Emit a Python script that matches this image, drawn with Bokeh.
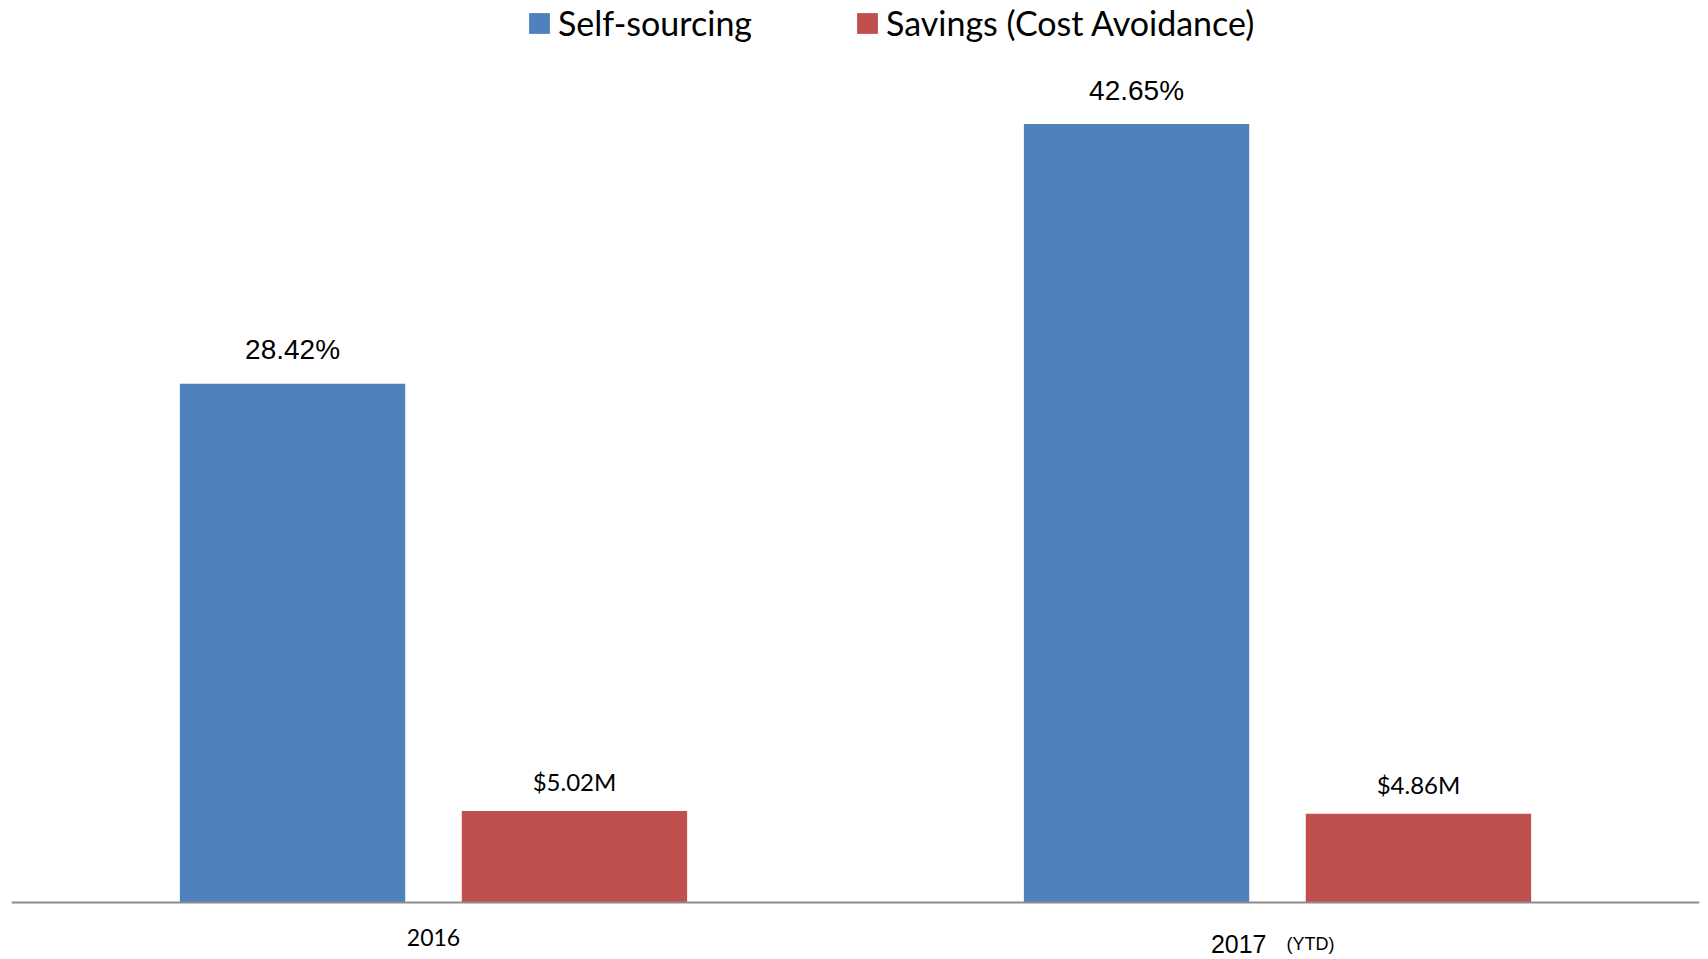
from bokeh.plotting import figure
from bokeh.models import ColumnDataSource, FactorRange, Range1d, Span, Legend, LegendItem
from bokeh.transform import dodge
from bokeh.core.properties import value
from bokeh.embed import file_html
from bokeh.resources import INLINE

# ---- data ----
categories = ["2016", "2017"]
category_suffix = "(YTD)"
self_sourcing = [28.42, 42.65]
savings = [5.02, 4.86]
self_labels = ["28.42%", "42.65%"]
savings_labels = ["$5.02M", "$4.86M"]
series_names = ["Self-sourcing", "Savings (Cost Avoidance)"]

BLUE = "#4F81BD"
RED = "#C0504D"

W, H = 1708, 959
p = figure(width=W, height=H, output_backend="svg", toolbar_location=None,
           x_range=FactorRange(factors=categories, range_padding=0),
           y_range=Range1d(-3.123, 49.42),
           x_axis_location=None, y_axis_location=None,
           min_border_left=11, min_border_right=9, min_border_top=0, min_border_bottom=0)
p.outline_line_color = None
p.xgrid.visible = False
p.ygrid.visible = False
p.background_fill_color = "white"
p.border_fill_color = "white"

src_a = ColumnDataSource(dict(cat=categories, val=self_sourcing, lab=self_labels))
src_b = ColumnDataSource(dict(cat=categories, val=savings, lab=savings_labels))

r_a = p.vbar(x=dodge("cat", -0.167, range=p.x_range), top="val", width=0.267,
             source=src_a, fill_color=BLUE, line_color=None)
r_b = p.vbar(x=dodge("cat", 0.167, range=p.x_range), top="val", width=0.267,
             source=src_b, fill_color=RED, line_color=None)

# value labels
p.text(x=dodge("cat", -0.167, range=p.x_range), y="val", text="lab", source=src_a,
       text_align="center", text_baseline="alphabetic", y_offset=-34,
       text_font=value("Liberation Sans"), text_font_size="28px", text_color="#000000")
p.text(x=dodge("cat", 0.167, range=p.x_range), y="val", text="lab", source=src_b,
       text_align="center", text_baseline="alphabetic", y_offset=-29,
       text_font=value("Lato"), text_font_size="24px", text_color="#000000")

# baseline
p.add_layout(Span(location=0, dimension="width", line_color="#8c8c8c", line_width=2))

# category labels
p.text(x=[categories[0]], y=[0], text=[categories[0]], text_align="center",
       text_baseline="alphabetic", y_offset=35,
       text_font=value("Lato"), text_font_size="23px", text_color="#000000")
p.text(x=[categories[1]], y=[0], text=[categories[1]], text_align="right",
       text_baseline="alphabetic", y_offset=42, x_offset=-11,
       text_font=value("Liberation Sans"), text_font_size="25px", text_color="#000000")
p.text(x=[categories[1]], y=[0], text=[category_suffix], text_align="left",
       text_baseline="alphabetic", y_offset=42, x_offset=9,
       text_font=value("Liberation Sans"), text_font_size="18px", text_color="#000000")

# legends
def mk_legend(name, rend, loc):
    lg = Legend(items=[LegendItem(label=name, renderers=[rend])], location=loc,
                orientation="horizontal", padding=0, margin=0, spacing=0,
                glyph_width=26, glyph_height=26, label_standoff=6,
                label_text_font="Lato", label_text_font_size="34px",
                label_text_color="#000000", border_line_color=None,
                background_fill_alpha=0)
    p.add_layout(lg, "center")

mk_legend(series_names[0], r_a, (515, 916))
mk_legend(series_names[1], r_b, (843, 916))

open("out.html", "w").write(file_html(p, INLINE))
